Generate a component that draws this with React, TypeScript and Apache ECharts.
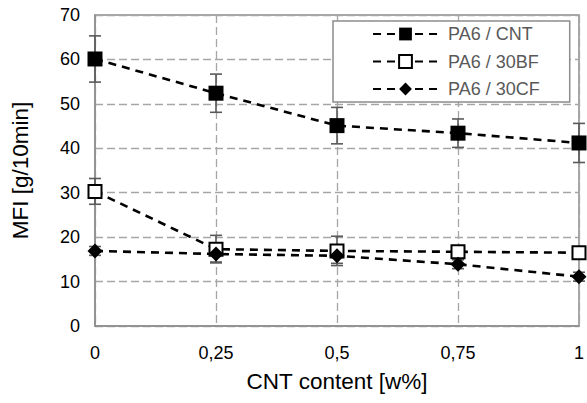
import React, { useEffect, useRef } from "react";
import * as echarts from "echarts";

const xValues = [0, 0.25, 0.5, 0.75, 1];
const seriesNames = ["PA6 / CNT", "PA6 / 30BF", "PA6 / 30CF"];
const cntValues = [60.1, 52.4, 45.1, 43.4, 41.2];
const cntErrors = [5.2, 4.3, 4.1, 3.2, 4.4];
const bfValues = [30.3, 17.3, 16.9, 16.7, 16.5];
const bfErrors = [2.9, 3.1, 3.3, 1.0, 1.0];
const cfValues = [16.9, 16.2, 15.8, 13.9, 11.1];
const cfErrors = [1.0, 1.8, 1.7, 1.0, 1.0];

const xTickLabels: Record<string, string> = { "0": "0", "0.25": "0,25", "0.5": "0,5", "0.75": "0,75", "1": "1" };

const FONT = "Liberation Sans, Arial, sans-serif";

function pts(vals: number[]) {
  return xValues.map((x, i) => [x, vals[i]]);
}
function errData(vals: number[], errs: number[]) {
  return xValues.map((x, i) => [x, vals[i] - errs[i], vals[i] + errs[i]]);
}

function errorSeries(name: string, vals: number[], errs: number[]) {
  return {
    type: "custom",
    name: name + " err",
    data: errData(vals, errs),
    encode: { x: 0, y: [1, 2] },
    z: 1,
    clip: false,
    silent: true,
    renderItem: (params: any, api: any) => {
      const x = api.value(0);
      const lo = api.coord([x, api.value(1)]);
      const hi = api.coord([x, api.value(2)]);
      const hw = 6;
      const style = { stroke: "#595959", lineWidth: 1.6 };
      return {
        type: "group",
        children: [
          { type: "line", shape: { x1: lo[0], y1: lo[1], x2: hi[0], y2: hi[1] }, style },
          { type: "line", shape: { x1: lo[0] - hw, y1: lo[1], x2: lo[0] + hw, y2: lo[1] }, style },
          { type: "line", shape: { x1: hi[0] - hw, y1: hi[1], x2: hi[0] + hw, y2: hi[1] }, style },
        ],
      };
    },
  };
}

export default function App() {
  const ref = useRef<HTMLDivElement>(null);
  useEffect(() => {
    if (!ref.current) return;
    const chart = echarts.init(ref.current, undefined, { renderer: "svg" });
    const lineStyle = { color: "#000", width: 2.6, type: [8, 6] as any };
    chart.setOption({
      animation: false,
      backgroundColor: "#fff",
      textStyle: { fontFamily: FONT },
      grid: {
        left: 95,
        right: 6,
        top: 15,
        bottom: 77,
        show: true,
        borderColor: "#8c8c8c",
        borderWidth: 1.5,
      },
      legend: {
        orient: "vertical",
        left: 333,
        top: 21,
        padding: [4, 30, 4, 39],
        itemWidth: 65,
        itemHeight: 16,
        itemGap: 9.5,
        backgroundColor: "#fff",
        borderColor: "#8c8c8c",
        borderWidth: 1.5,
        borderRadius: 0,
        textStyle: { fontSize: 18, color: "#595959", fontFamily: FONT, padding: [0, 0, 0, 5] },
        data: seriesNames,
      },
      xAxis: {
        type: "value",
        min: 0,
        max: 1,
        interval: 0.25,
        axisLine: { show: true, lineStyle: { color: "#8c8c8c", width: 1.5 } },
        axisTick: { show: false },
        splitLine: { show: true, lineStyle: { color: "#a6a6a6", width: 1.3, type: [8, 4] } },
        axisLabel: {
          fontSize: 18,
          color: "#000",
          margin: 18,
          fontFamily: FONT,
          formatter: (v: number) => xTickLabels[String(v)] ?? String(v),
        },
        name: "CNT content [w%]",
        nameLocation: "middle",
        nameGap: 44,
        nameTextStyle: { fontSize: 22.5, color: "#000", fontFamily: FONT },
      },
      yAxis: {
        type: "value",
        min: 0,
        max: 70,
        interval: 10,
        axisLine: { show: true, lineStyle: { color: "#8c8c8c", width: 1.5 } },
        axisTick: { show: false },
        splitLine: { show: true, lineStyle: { color: "#a6a6a6", width: 1.3, type: [8, 4] } },
        axisLabel: { fontSize: 18, color: "#000", margin: 15, fontFamily: FONT },
        name: "MFI [g/10min]",
        nameLocation: "middle",
        nameGap: 63,
        nameTextStyle: { fontSize: 22.5, color: "#000", fontFamily: FONT },
      },
      series: [
        errorSeries(seriesNames[0], cntValues, cntErrors),
        errorSeries(seriesNames[1], bfValues, bfErrors),
        errorSeries(seriesNames[2], cfValues, cfErrors),
        {
          type: "line",
          name: seriesNames[0],
          data: pts(cntValues),
          symbol: "rect",
          symbolSize: 15,
          clip: false,
          itemStyle: { color: "#000", borderColor: "#000", borderWidth: 0 },
          lineStyle,
          z: 3,
        },
        {
          type: "line",
          name: seriesNames[1],
          data: pts(bfValues),
          symbol: "rect",
          symbolSize: 13,
          clip: false,
          showAllSymbol: true,
          itemStyle: { color: "#fff", borderColor: "#000", borderWidth: 2 },
          lineStyle,
          z: 3,
        },
        {
          type: "line",
          name: seriesNames[2],
          data: pts(cfValues),
          symbol: "diamond",
          symbolSize: [15, 15],
          clip: false,
          itemStyle: { color: "#000", borderColor: "#000", borderWidth: 0 },
          lineStyle,
          z: 4,
        },
      ],
    });
    return () => chart.dispose();
  }, []);
  return (
    <div
      ref={ref}
      style={{ position: "fixed", left: 0, top: 0, width: 587, height: 403 }}
    />
  );
}
